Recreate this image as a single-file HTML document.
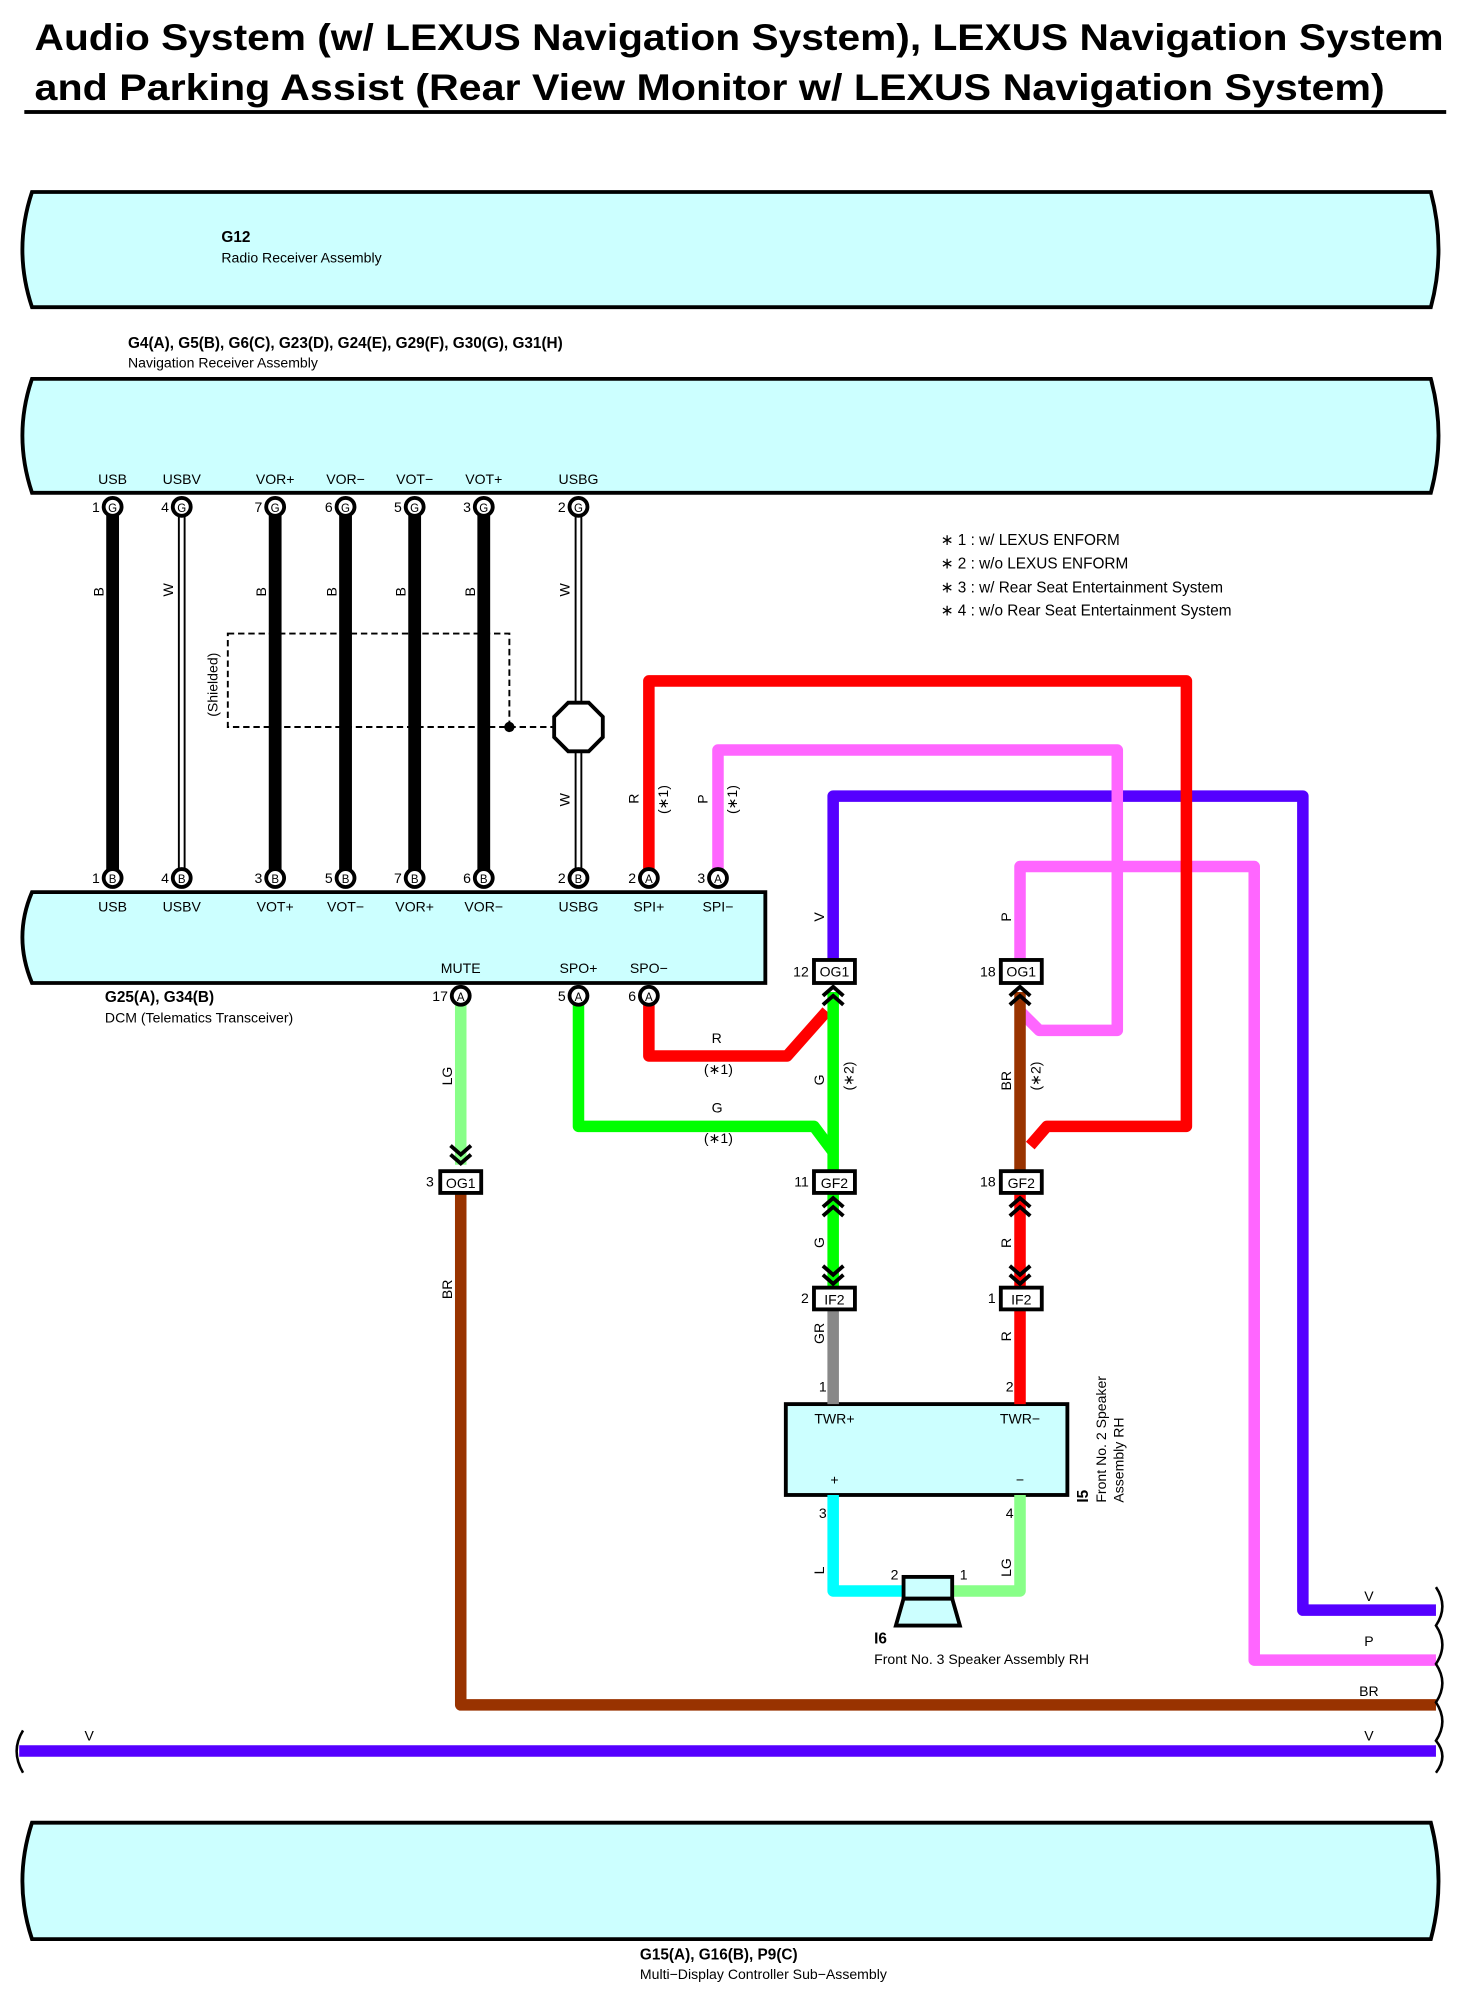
<!DOCTYPE html>
<html><head><meta charset="utf-8"><style>
html,body{margin:0;padding:0;background:#fff}
svg{display:block}
text{font-family:"Liberation Sans",sans-serif;fill:#000}
.s{font-size:11px}
.b{font-size:12px;font-weight:bold}
.p{font-size:11px;text-anchor:middle}
</style></head><body>
<svg width="1459" height="1998" viewBox="0 0 1140 1561" preserveAspectRatio="none" xmlns="http://www.w3.org/2000/svg">
<text x="27" y="39" textLength="1101" lengthAdjust="spacingAndGlyphs" style="font-size:29px;font-weight:bold">Audio System (w/ LEXUS Navigation System), LEXUS Navigation System</text>
<text x="27" y="78" textLength="1055" lengthAdjust="spacingAndGlyphs" style="font-size:29px;font-weight:bold">and Parking Assist (Rear View Monitor w/ LEXUS Navigation System)</text>
<rect x="19" y="86" width="1111" height="3" fill="#000"/>

<g fill="#ccffff" stroke="#000" stroke-width="3">
<path d="M25,150 L1118,150 Q1130,195 1118,240 L25,240 Q10,195 25,150 Z"/>
<path d="M25,296 L1118,296 Q1130,340 1118,385 L25,385 Q10,340 25,296 Z"/>
<path d="M25,697 L598,697 L598,768 L25,768 Q10,732 25,697 Z"/>
<path d="M25,1424 L1118,1424 Q1130,1470 1118,1515 L25,1515 Q10,1470 25,1424 Z"/>
<rect x="614" y="1097" width="220" height="71"/>
</g>
<text x="173" y="189" class="b">G12</text>
<text x="173" y="205" class="s">Radio Receiver Assembly</text>
<text x="100" y="272" class="b">G4(A), G5(B), G6(C), G23(D), G24(E), G29(F), G30(G), G31(H)</text>
<text x="100" y="287" class="s">Navigation Receiver Assembly</text>

<g class="s" style="font-size:12px">
<text x="735" y="426">∗ 1 : w/ LEXUS ENFORM</text>
<text x="735" y="444">∗ 2 : w/o LEXUS ENFORM</text>
<text x="735" y="463">∗ 3 : w/ Rear Seat Entertainment System</text>
<text x="735" y="481">∗ 4 : w/o Rear Seat Entertainment System</text>
</g>

<g stroke="#000" stroke-width="10">
<line x1="88" y1="396" x2="88" y2="686"/><line x1="215" y1="396" x2="215" y2="686"/>
<line x1="270" y1="396" x2="270" y2="686"/><line x1="324" y1="396" x2="324" y2="686"/>
<line x1="378" y1="396" x2="378" y2="686"/>
</g>
<g stroke="#000" stroke-width="6"><line x1="142" y1="396" x2="142" y2="686"/><line x1="452" y1="396" x2="452" y2="686"/></g>
<g stroke="#fff" stroke-width="3"><line x1="142" y1="396" x2="142" y2="686"/><line x1="452" y1="396" x2="452" y2="686"/></g>
<rect x="178" y="495" width="220" height="73" fill="none" stroke="#000" stroke-width="1.5" stroke-dasharray="5,3"/>
<line x1="398" y1="568" x2="432" y2="568" stroke="#000" stroke-width="1.5" stroke-dasharray="5,3"/>
<circle cx="398" cy="568" r="4" fill="#000"/>
<polygon points="444,549 460,549 471,560 471,576 460,587 444,587 433,576 433,560" fill="#fff" stroke="#000" stroke-width="3"/>
<text transform="translate(170,560) rotate(-90)" class="s">(Shielded)</text>

<g class="s">
<text transform="translate(81,466) rotate(-90)">B</text>
<text transform="translate(135,466) rotate(-90)">W</text>
<text transform="translate(208,466) rotate(-90)">B</text>
<text transform="translate(263,466) rotate(-90)">B</text>
<text transform="translate(317,466) rotate(-90)">B</text>
<text transform="translate(371,466) rotate(-90)">B</text>
<text transform="translate(445,466) rotate(-90)">W</text>
<text transform="translate(445,630) rotate(-90)">W</text>
<text transform="translate(499,628) rotate(-90)">R</text>
<text transform="translate(522,636) rotate(-90)">(∗1)</text>
<text transform="translate(553,628) rotate(-90)">P</text>
<text transform="translate(576,636) rotate(-90)">(∗1)</text>
<text transform="translate(644,720) rotate(-90)">V</text>
<text transform="translate(790,720) rotate(-90)">P</text>
<text transform="translate(644,848) rotate(-90)">G</text>
<text transform="translate(667,852) rotate(-90)">(∗2)</text>
<text transform="translate(790,852) rotate(-90)">BR</text>
<text transform="translate(813,852) rotate(-90)">(∗2)</text>
<text transform="translate(353,848) rotate(-90)">LG</text>
<text transform="translate(353,1015) rotate(-90)">BR</text>
<text transform="translate(644,975) rotate(-90)">G</text>
<text transform="translate(790,975) rotate(-90)">R</text>
<text transform="translate(644,1050) rotate(-90)">GR</text>
<text transform="translate(790,1048) rotate(-90)">R</text>
<text transform="translate(644,1230) rotate(-90)">L</text>
<text transform="translate(790,1232) rotate(-90)">LG</text>
<text x="556" y="815">R</text><text x="550" y="839">(∗1)</text>
<text x="556" y="869">G</text><text x="550" y="893">(∗1)</text>
<text x="1066" y="1251">V</text><text x="1066" y="1286">P</text>
<text x="1062" y="1325">BR</text>
<text x="66" y="1360">V</text><text x="1066" y="1360">V</text>
</g>

<g fill="none" stroke-width="9" stroke-linejoin="round">
<polyline stroke="#ff66ff" points="797,758 797,677 980,677 980,1297 1122,1297"/>
<polyline stroke="#5500ff" points="651,758 651,622 1018,622 1018,1258 1122,1258"/>
<polyline stroke="#ff66ff" points="561,686 561,586 873,586 873,805 812,805 797,790"/>
<polyline stroke="#ff0000" points="507,686 507,532 927,532 927,880 818,880 805,895"/>
<polyline stroke="#ff0000" points="507,778 507,825 615,825 646,790"/>
<polyline stroke="#00ff00" points="452,778 452,880 636,880 651,900"/>
<line x1="651" y1="775" x2="651" y2="923" stroke="#00ff00"/>
<line x1="797" y1="775" x2="797" y2="923" stroke="#993300"/>
<line x1="360" y1="778" x2="360" y2="910" stroke="#88ff88"/>
<polyline stroke="#993300" points="360,923 360,1332 1122,1332"/>
<line x1="651" y1="923" x2="651" y2="1006" stroke="#00ff00"/>
<line x1="797" y1="923" x2="797" y2="1006" stroke="#ff0000"/>
<line x1="651" y1="1023" x2="651" y2="1097" stroke="#888888"/>
<line x1="797" y1="1023" x2="797" y2="1097" stroke="#ff0000"/>
<polyline stroke="#00ffff" points="651,1168 651,1243 706,1243"/>
<polyline stroke="#88ff88" points="797,1168 797,1243 744,1243"/>
<line x1="15" y1="1368" x2="1122" y2="1368" stroke="#5500ff"/>
</g>
<g fill="none" stroke="#000" stroke-width="2">
<path d="M1122,1240 Q1132,1255 1122,1270 Q1132,1285 1122,1300 Q1132,1315 1122,1330 Q1132,1345 1122,1360 Q1132,1372 1122,1385"/>
<path d="M18,1352 Q8,1368 18,1385"/>
</g>

<g fill="#fff" stroke="#000" stroke-width="3">
<circle cx="88" cy="396" r="7"/><circle cx="142" cy="396" r="7"/><circle cx="215" cy="396" r="7"/><circle cx="270" cy="396" r="7"/><circle cx="324" cy="396" r="7"/><circle cx="378" cy="396" r="7"/><circle cx="452" cy="396" r="7"/>
<circle cx="88" cy="686" r="7"/><circle cx="142" cy="686" r="7"/><circle cx="215" cy="686" r="7"/><circle cx="270" cy="686" r="7"/><circle cx="324" cy="686" r="7"/><circle cx="378" cy="686" r="7"/><circle cx="452" cy="686" r="7"/><circle cx="507" cy="686" r="7"/><circle cx="561" cy="686" r="7"/>
<circle cx="360" cy="778" r="7"/><circle cx="452" cy="778" r="7"/><circle cx="507" cy="778" r="7"/>
</g>
<g style="font-size:9px;text-anchor:middle">
<text x="88" y="400">G</text><text x="142" y="400">G</text><text x="215" y="400">G</text><text x="270" y="400">G</text><text x="324" y="400">G</text><text x="378" y="400">G</text><text x="452" y="400">G</text>
<text x="88" y="690">B</text><text x="142" y="690">B</text><text x="215" y="690">B</text><text x="270" y="690">B</text><text x="324" y="690">B</text><text x="378" y="690">B</text><text x="452" y="690">B</text><text x="507" y="690">A</text><text x="561" y="690">A</text>
<text x="360" y="782">A</text><text x="452" y="782">A</text><text x="507" y="782">A</text>
</g>
<g class="s" style="text-anchor:end">
<text x="78" y="400">1</text><text x="132" y="400">4</text><text x="205" y="400">7</text><text x="260" y="400">6</text><text x="314" y="400">5</text><text x="368" y="400">3</text><text x="442" y="400">2</text>
<text x="78" y="690">1</text><text x="132" y="690">4</text><text x="205" y="690">3</text><text x="260" y="690">5</text><text x="314" y="690">7</text><text x="368" y="690">6</text><text x="442" y="690">2</text><text x="497" y="690">2</text><text x="551" y="690">3</text>
<text x="350" y="782">17</text><text x="442" y="782">5</text><text x="497" y="782">6</text>
<text x="632" y="763">12</text><text x="778" y="763">18</text><text x="339" y="927">3</text>
<text x="632" y="927">11</text><text x="778" y="927">18</text>
<text x="632" y="1018">2</text><text x="778" y="1018">1</text>
<text x="646" y="1087">1</text><text x="792" y="1087">2</text>
<text x="646" y="1186">3</text><text x="792" y="1186">4</text>
<text x="702" y="1234">2</text><text x="756" y="1234">1</text>
</g>
<g class="p">
<text x="88" y="378">USB</text><text x="142" y="378">USBV</text><text x="215" y="378">VOR+</text><text x="270" y="378">VOR−</text><text x="324" y="378">VOT−</text><text x="378" y="378">VOT+</text><text x="452" y="378">USBG</text>
<text x="88" y="712">USB</text><text x="142" y="712">USBV</text><text x="215" y="712">VOT+</text><text x="270" y="712">VOT−</text><text x="324" y="712">VOR+</text><text x="378" y="712">VOR−</text><text x="452" y="712">USBG</text><text x="507" y="712">SPI+</text><text x="561" y="712">SPI−</text>
<text x="360" y="760">MUTE</text><text x="452" y="760">SPO+</text><text x="507" y="760">SPO−</text>
<text x="652" y="1112">TWR+</text><text x="797" y="1112">TWR−</text>
<text x="652" y="1160">+</text><text x="797" y="1160">−</text>
</g>
<text x="82" y="783" class="b">G25(A), G34(B)</text>
<text x="82" y="799" class="s">DCM (Telematics Transceiver)</text>

<g fill="#fff" stroke="#000" stroke-width="3">
<rect x="636" y="750" width="32" height="18"/><rect x="782" y="750" width="32" height="18"/>
<rect x="344" y="915" width="32" height="17"/>
<rect x="636" y="915" width="32" height="17"/><rect x="782" y="915" width="32" height="17"/>
<rect x="636" y="1006" width="32" height="17"/><rect x="782" y="1006" width="32" height="17"/>
</g>
<g class="p">
<text x="652" y="763">OG1</text><text x="798" y="763">OG1</text><text x="360" y="928">OG1</text>
<text x="652" y="928">GF2</text><text x="798" y="928">GF2</text>
<text x="652" y="1019">IF2</text><text x="798" y="1019">IF2</text>
</g>
<g fill="none" stroke="#000" stroke-width="3">
<path d="M643,778 L651,771 L659,778 M643,785 L651,778 L659,785"/>
<path d="M789,778 L797,771 L805,778 M789,785 L797,778 L805,785"/>
<path d="M352,895 L360,902 L368,895 M352,902 L360,909 L368,902"/>
<path d="M643,943 L651,936 L659,943 M643,950 L651,943 L659,950"/>
<path d="M789,943 L797,936 L805,943 M789,950 L797,943 L805,950"/>
<path d="M643,989 L651,996 L659,989 M643,996 L651,1003 L659,996"/>
<path d="M789,989 L797,996 L805,989 M789,996 L797,1003 L805,996"/>
</g>
<g fill="#ccffff" stroke="#000" stroke-width="3">
<rect x="706" y="1232" width="38" height="17"/>
<polygon points="706,1249 744,1249 750,1270 700,1270"/>
</g>
<text x="683" y="1284" class="b">I6</text>
<text x="683" y="1300" class="s">Front No.  3 Speaker Assembly RH</text>
<text transform="translate(850,1174) rotate(-90)" class="b">I5</text>
<text transform="translate(864,1174) rotate(-90)" class="s">Front No.  2 Speaker</text>
<text transform="translate(878,1174) rotate(-90)" class="s">Assembly RH</text>

<text x="500" y="1531" class="b">G15(A), G16(B), P9(C)</text>
<text x="500" y="1546" class="s">Multi−Display Controller Sub−Assembly</text>
</svg>
</body></html>
